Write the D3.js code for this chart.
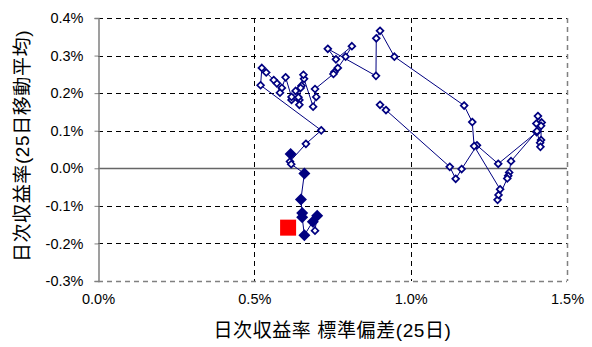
<!DOCTYPE html>
<html>
<head>
<meta charset="utf-8">
<script src="https://cdn.jsdelivr.net/npm/d3@7"></script>
<style>
  html, body { margin: 0; padding: 0; background: #fff; }
  svg { display: block; }
  text { font-family: "Liberation Sans", Arial, "Noto Sans CJK JP", sans-serif; fill: #000; }
</style>
</head>
<body>
<svg id="chart" width="592" height="347"></svg>
<script>
// 25-day standard deviation of daily returns (%), day by day
const pathSd = [
  0.902, 0.921, 1.125, 1.144, 1.163, 1.212, 1.280, 1.403, 1.407, 1.419,
  1.402, 1.417, 1.417, 1.414, 1.415, 1.404, 1.321, 1.315, 1.312, 1.309,
  1.278, 1.281, 1.286, 1.203, 1.197, 1.171, 0.948, 0.902, 0.890, 0.889,
  0.735, 0.761, 0.812, 0.792, 0.767, 0.756, 0.753, 0.694, 0.698, 0.688,
  0.659, 0.657, 0.651, 0.648, 0.644, 0.644, 0.641, 0.632, 0.619, 0.619,
  0.600, 0.588, 0.582, 0.572, 0.562, 0.538, 0.524, 0.520, 0.714, 0.665,
  0.614, 0.616, 0.618, 0.660, 0.649, 0.653, 0.653, 0.660, 0.687, 0.694,
  0.701
];
// 25-day moving average of daily returns (%), same days
const pathMean = [
  0.169, 0.155, 0.004, -0.028, -0.002, 0.061, 0.012, 0.096, 0.139, 0.122,
  0.119, 0.113, 0.075, 0.068, 0.057, 0.099, 0.019, -0.011, -0.020, -0.027,
  -0.084, -0.071, -0.056, 0.059, 0.123, 0.167, 0.297, 0.366, 0.346, 0.246,
  0.318, 0.290, 0.325, 0.297, 0.267, 0.256, 0.251, 0.211, 0.190, 0.164,
  0.238, 0.249, 0.220, 0.214, 0.182, 0.169, 0.189, 0.206, 0.182, 0.190,
  0.242, 0.214, 0.201, 0.226, 0.235, 0.255, 0.267, 0.221, 0.101, 0.065,
  0.018, 0.038, 0.011, -0.014, -0.083, -0.119, -0.130, -0.178, -0.142, -0.166,
  -0.126
];
// most recent days, highlighted
const recentSd   = [0.616, 0.660, 0.649, 0.653, 0.653, 0.660, 0.687, 0.701];
const recentMean = [0.038, -0.014, -0.083, -0.119, -0.130, -0.178, -0.142, -0.126];
// latest day
const latestSd   = [0.608];
const latestMean = [-0.158];

const xTicks = [0, 0.5, 1.0, 1.5];
const yTicks = [-0.3, -0.2, -0.1, 0, 0.1, 0.2, 0.3, 0.4];

const xTitle = "日次収益率 標準偏差(25日)";
const yTitle = "日次収益率(25日移動平均)";

const svg = d3.select("#chart");
const plotL = 98, plotR = 567, plotT = 18, plotB = 281;

const x = d3.scaleLinear().domain([0, 1.5]).range([plotL, plotR]);
const y = d3.scaleLinear().domain([-0.3, 0.4]).range([plotB, plotT]);
const fmt = v => v.toFixed(1) + "%";
const px = v => Math.round(v) + 0.5;

// gridlines
const grid = svg.append("g");
grid.selectAll("line.h")
  .data(yTicks.filter(v => v !== 0 && v !== -0.3))
  .join("line")
  .attr("x1", plotL).attr("x2", plotR)
  .attr("y1", d => px(y(d))).attr("y2", d => px(y(d)))
  .attr("stroke", "#000").attr("stroke-width", 1).attr("stroke-dasharray", "5,4");
grid.selectAll("line.v")
  .data(xTicks.filter(v => v > 0 && v < 1.5))
  .join("line")
  .attr("x1", d => px(x(d))).attr("x2", d => px(x(d)))
  .attr("y1", plotT).attr("y2", plotB)
  .attr("stroke", "#000").attr("stroke-width", 1).attr("stroke-dasharray", "5,4");

// plot border (right and bottom), dashed grey
svg.append("line")
  .attr("x1", px(x(1.5))).attr("x2", px(x(1.5)))
  .attr("y1", plotT).attr("y2", plotB)
  .attr("stroke", "#808080").attr("stroke-width", 1.5).attr("stroke-dasharray", "5,4");
svg.append("line")
  .attr("x1", plotL).attr("x2", plotR)
  .attr("y1", px(y(-0.3))).attr("y2", px(y(-0.3)))
  .attr("stroke", "#808080").attr("stroke-width", 1.5).attr("stroke-dasharray", "5,4");

// zero line
svg.append("line")
  .attr("x1", plotL).attr("x2", plotR)
  .attr("y1", px(y(0))).attr("y2", px(y(0)))
  .attr("stroke", "#666").attr("stroke-width", 1.5);

// y axis
const yAxis = svg.append("g")
  .attr("transform", `translate(${plotL + 0.5},0)`)
  .call(d3.axisLeft(y).tickValues(yTicks).tickFormat(fmt).tickSize(4).tickPadding(11));
yAxis.select(".domain").attr("stroke", "#808080").attr("stroke-width", 1.5);
yAxis.selectAll(".tick line").attr("stroke", "#808080");
yAxis.selectAll("text").style("font-size", "14.5px").attr("fill", "#000");

// x axis labels
const xAxis = svg.append("g")
  .attr("transform", `translate(0,${plotB})`)
  .call(d3.axisBottom(x).tickValues(xTicks).tickFormat(fmt).tickSize(0).tickPadding(13));
xAxis.select(".domain").remove();
xAxis.selectAll("text").style("font-size", "14.5px").attr("fill", "#000");

// axis titles
svg.append("text")
  .attr("x", (plotL + plotR) / 2).attr("y", 337)
  .attr("text-anchor", "middle")
  .style("font-size", "19px")
  .style("letter-spacing", "0.6px")
  .text(xTitle);
svg.append("text")
  .attr("transform", `translate(29,146) rotate(-90)`)
  .attr("text-anchor", "middle")
  .style("font-size", "19px")
  .style("letter-spacing", "0.6px")
  .text(yTitle);

// diamond marker path
const diamond = r => `M0,${-r}L${r},0L0,${r}L${-r},0Z`;

const navy = "#000080";
const pts = pathSd.map((s, i) => [s, pathMean[i]]);

// trajectory line
svg.append("path")
  .datum(pts)
  .attr("fill", "none")
  .attr("stroke", navy)
  .attr("stroke-width", 1)
  .attr("d", d3.line().x(d => x(d[0])).y(d => y(d[1])));

// daily markers
svg.append("g").selectAll("path")
  .data(pts)
  .join("path")
  .attr("transform", d => `translate(${x(d[0])},${y(d[1])})`)
  .attr("d", diamond(3.4))
  .attr("fill", "#fff")
  .attr("stroke", navy)
  .attr("stroke-width", 1.7);

// recent days
svg.append("g").selectAll("path")
  .data(recentSd.map((s, i) => [s, recentMean[i]]))
  .join("path")
  .attr("transform", d => `translate(${x(d[0])},${y(d[1])})`)
  .attr("d", diamond(6))
  .attr("fill", navy);

// latest day
svg.append("g").selectAll("rect")
  .data(latestSd.map((s, i) => [s, latestMean[i]]))
  .join("rect")
  .attr("x", d => x(d[0]) - 8).attr("y", d => y(d[1]) - 8)
  .attr("width", 16).attr("height", 16)
  .attr("fill", "#ff0000");
</script>
</body>
</html>
